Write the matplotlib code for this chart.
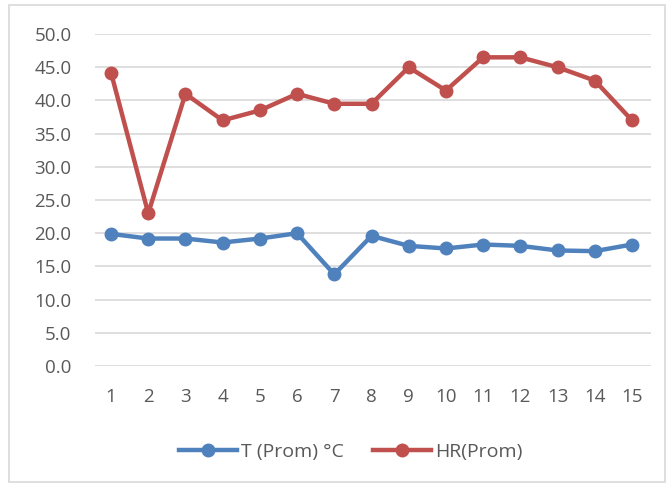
import matplotlib.pyplot as plt
from matplotlib.patches import Rectangle

# daily averages
dias = [1, 2, 3, 4, 5, 6, 7, 8, 9, 10, 11, 12, 13, 14, 15]
t_prom = [19.9, 19.2, 19.2, 18.6, 19.2, 20.0, 13.8, 19.6, 18.1, 17.7, 18.3, 18.1, 17.4, 17.3, 18.3]
hr_prom = [44.2, 23.0, 41.0, 37.0, 38.5, 41.0, 39.5, 39.5, 45.0, 41.5, 46.5, 46.5, 45.0, 43.0, 37.0]
yticks = [0, 5, 10, 15, 20, 25, 30, 35, 40, 45, 50]

plt.rcParams['font.family'] = ['Open Sans', 'DejaVu Sans']

fig = plt.figure(figsize=(6.7, 4.87), dpi=100)
ax = fig.add_axes([0.1418, 0.2485, 0.8298, 0.6815])

# chart frame
fig.patches.append(Rectangle((9/670, 5/487), 656/670, 477/487, transform=fig.transFigure,
                             fill=False, edgecolor='#D9D9D9', linewidth=1.2))

ax.plot(dias, t_prom, color='#4F81BD', linewidth=3.2, marker='o', markersize=9,
        label='T (Prom) °C', zorder=3)
ax.plot(dias, hr_prom, color='#C0504D', linewidth=3.2, marker='o', markersize=9,
        label='HR(Prom)', zorder=3)

ax.set_ylim(0, 50)
ax.set_xlim(0.57, 15.51)
ax.set_yticks(yticks)
ax.set_yticklabels([f'{v:.1f}' for v in yticks])
ax.set_xticks(dias)
ax.set_xticklabels([str(d) for d in dias])
ax.grid(axis='y', color='#D9D9D9', linewidth=1.2)
ax.set_axisbelow(True)
for s in ax.spines.values():
    s.set_visible(False)
ax.tick_params(axis='both', length=0, labelsize=13.5, colors='#595959')
ax.tick_params(axis='y', pad=17)
ax.tick_params(axis='x', pad=16)

ax.legend(loc='center', bbox_to_anchor=(0.46, -0.26), ncol=2, frameon=False,
          fontsize=14, labelcolor='#595959', handlelength=3.0, handletextpad=0.2,
          columnspacing=1.5)

fig.savefig('out.png', dpi=100)
